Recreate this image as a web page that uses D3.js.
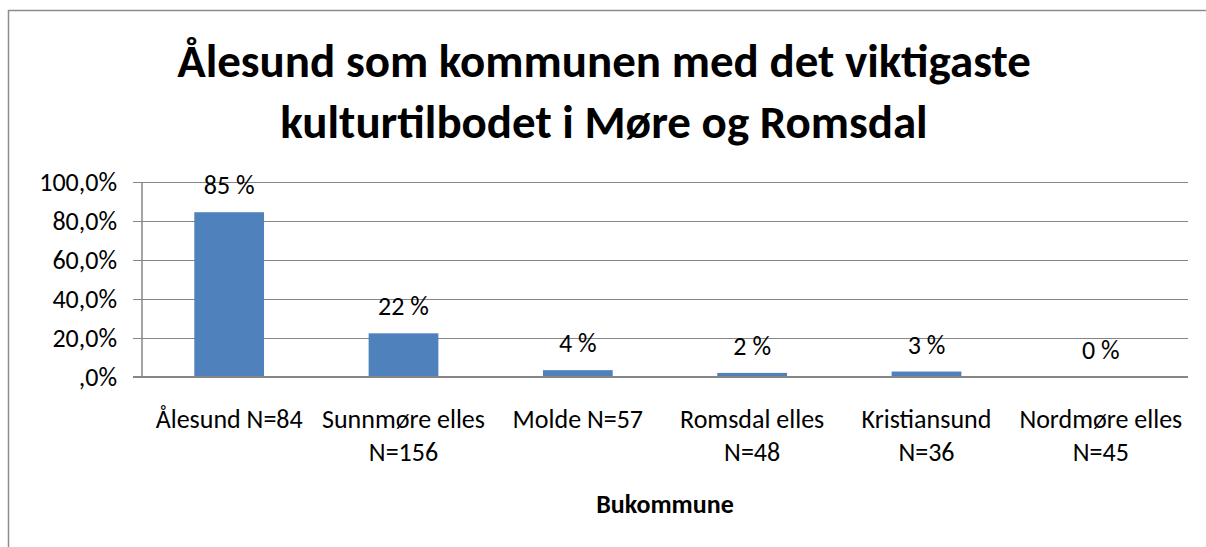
<!DOCTYPE html>
<html>
<head>
<meta charset="utf-8">
<script src="https://cdn.jsdelivr.net/npm/d3@7"></script>
<style>
  body { margin: 0; background: #fff; }
  svg { display: block; font-family: Carlito, Calibri, Lato, sans-serif; }
</style>
</head>
<body>
<div id="chart"></div>
<script>
// data
var categories = ["Ålesund N=84", "Sunnmøre elles\nN=156", "Molde N=57", "Romsdal elles\nN=48", "Kristiansund\nN=36", "Nordmøre elles\nN=45"];
var values = [0.845, 0.224, 0.035, 0.021, 0.028, 0.0];
var yTicks = [0, 0.2, 0.4, 0.6, 0.8, 1.0];
var titleLines = ["Ålesund som kommunen med det viktigaste", "kulturtilbodet i Møre og Romsdal"];
var xTitle = "Bukommune";

var w = 1206, h = 547;
var margin = { top: 182, right: 18, bottom: 170, left: 142 };
var fontSize = "26px";

var svg = d3.select("#chart").append("svg")
    .attr("width", w)
    .attr("height", h);

// chart frame (only left and top edges are in view)
svg.append("path")
    .attr("d", `M8.5,${h} L8.5,10.5 L${w},10.5`)
    .attr("fill", "none")
    .attr("stroke", "#8c8c8c")
    .attr("stroke-width", 1.5);

var xScale = d3.scaleBand()
    .domain(categories)
    .range([margin.left, w - margin.right])
    .paddingInner(0.6)
    .paddingOuter(0.3);

var yScale = d3.scaleLinear()
    .domain([0, 1])
    .range([h - margin.bottom, margin.top]);

// gridlines
svg.append("g")
    .selectAll("line")
    .data(yTicks.filter(d => d > 0))
    .enter()
    .append("line")
    .attr("x1", margin.left)
    .attr("x2", w - margin.right)
    .attr("y1", d => Math.round(yScale(d)) + 0.5)
    .attr("y2", d => Math.round(yScale(d)) + 0.5)
    .attr("stroke", "#868686")
    .attr("stroke-width", 1);

// y axis
var yAxis = svg.append("g")
    .attr("transform", `translate(${margin.left},0)`)
    .call(d3.axisLeft(yScale)
        .tickValues(yTicks)
        .tickSize(9)
        .tickPadding(16)
        .tickFormat(d => d === 0 ? ",0%" : d3.format(".1f")(d * 100).replace(".", ",") + "%"));
yAxis.select(".domain").attr("stroke", "#868686").attr("stroke-width", 1.5).attr("d", `M0,${yScale(1)}V${yScale(0)}`);
yAxis.selectAll(".tick line").attr("stroke", "#868686");
yAxis.selectAll(".tick text")
    .attr("fill", "#000")
    .style("font-size", fontSize)
    .style("font-family", "Carlito, Calibri, Lato, sans-serif");

// bars
svg.append("g")
    .selectAll("rect")
    .data(values)
    .enter()
    .append("rect")
    .attr("x", (d, i) => xScale(categories[i]))
    .attr("y", d => yScale(d))
    .attr("width", xScale.bandwidth())
    .attr("height", d => yScale(0) - yScale(d))
    .attr("fill", "#4F81BD");

// x axis line
svg.append("line")
    .attr("x1", margin.left - 9)
    .attr("x2", w - margin.right)
    .attr("y1", yScale(0))
    .attr("y2", yScale(0))
    .attr("stroke", "#868686")
    .attr("stroke-width", 2);

// data labels
svg.append("g")
    .selectAll("text")
    .data(values)
    .enter()
    .append("text")
    .attr("x", (d, i) => xScale(categories[i]) + xScale.bandwidth() / 2)
    .attr("y", d => yScale(d) - 18)
    .attr("text-anchor", "middle")
    .style("font-size", fontSize)
    .text(d => Math.round(d * 100) + " %");

// category labels
var catLabels = svg.append("g")
    .selectAll("text")
    .data(categories)
    .enter()
    .append("text")
    .attr("x", d => xScale(d) + xScale.bandwidth() / 2)
    .attr("y", 428)
    .attr("text-anchor", "middle")
    .style("font-size", fontSize);
catLabels.each(function(d) {
    var t = d3.select(this);
    d.split("\n").forEach((line, i) => {
        t.append("tspan")
            .attr("x", t.attr("x"))
            .attr("dy", i === 0 ? 0 : 33)
            .text(line);
    });
});

// axis title
svg.append("text")
    .attr("x", (margin.left + w - margin.right) / 2)
    .attr("y", 513)
    .attr("text-anchor", "middle")
    .style("font-size", "26px")
    .style("font-weight", "bold")
    .text(xTitle);

// chart title
svg.append("g")
    .selectAll("text")
    .data(titleLines)
    .enter()
    .append("text")
    .attr("x", 604)
    .attr("y", (d, i) => 77 + i * 61)
    .attr("text-anchor", "middle")
    .style("font-size", "47px")
    .style("font-weight", "bold")
    .text(d => d);
</script>
</body>
</html>
